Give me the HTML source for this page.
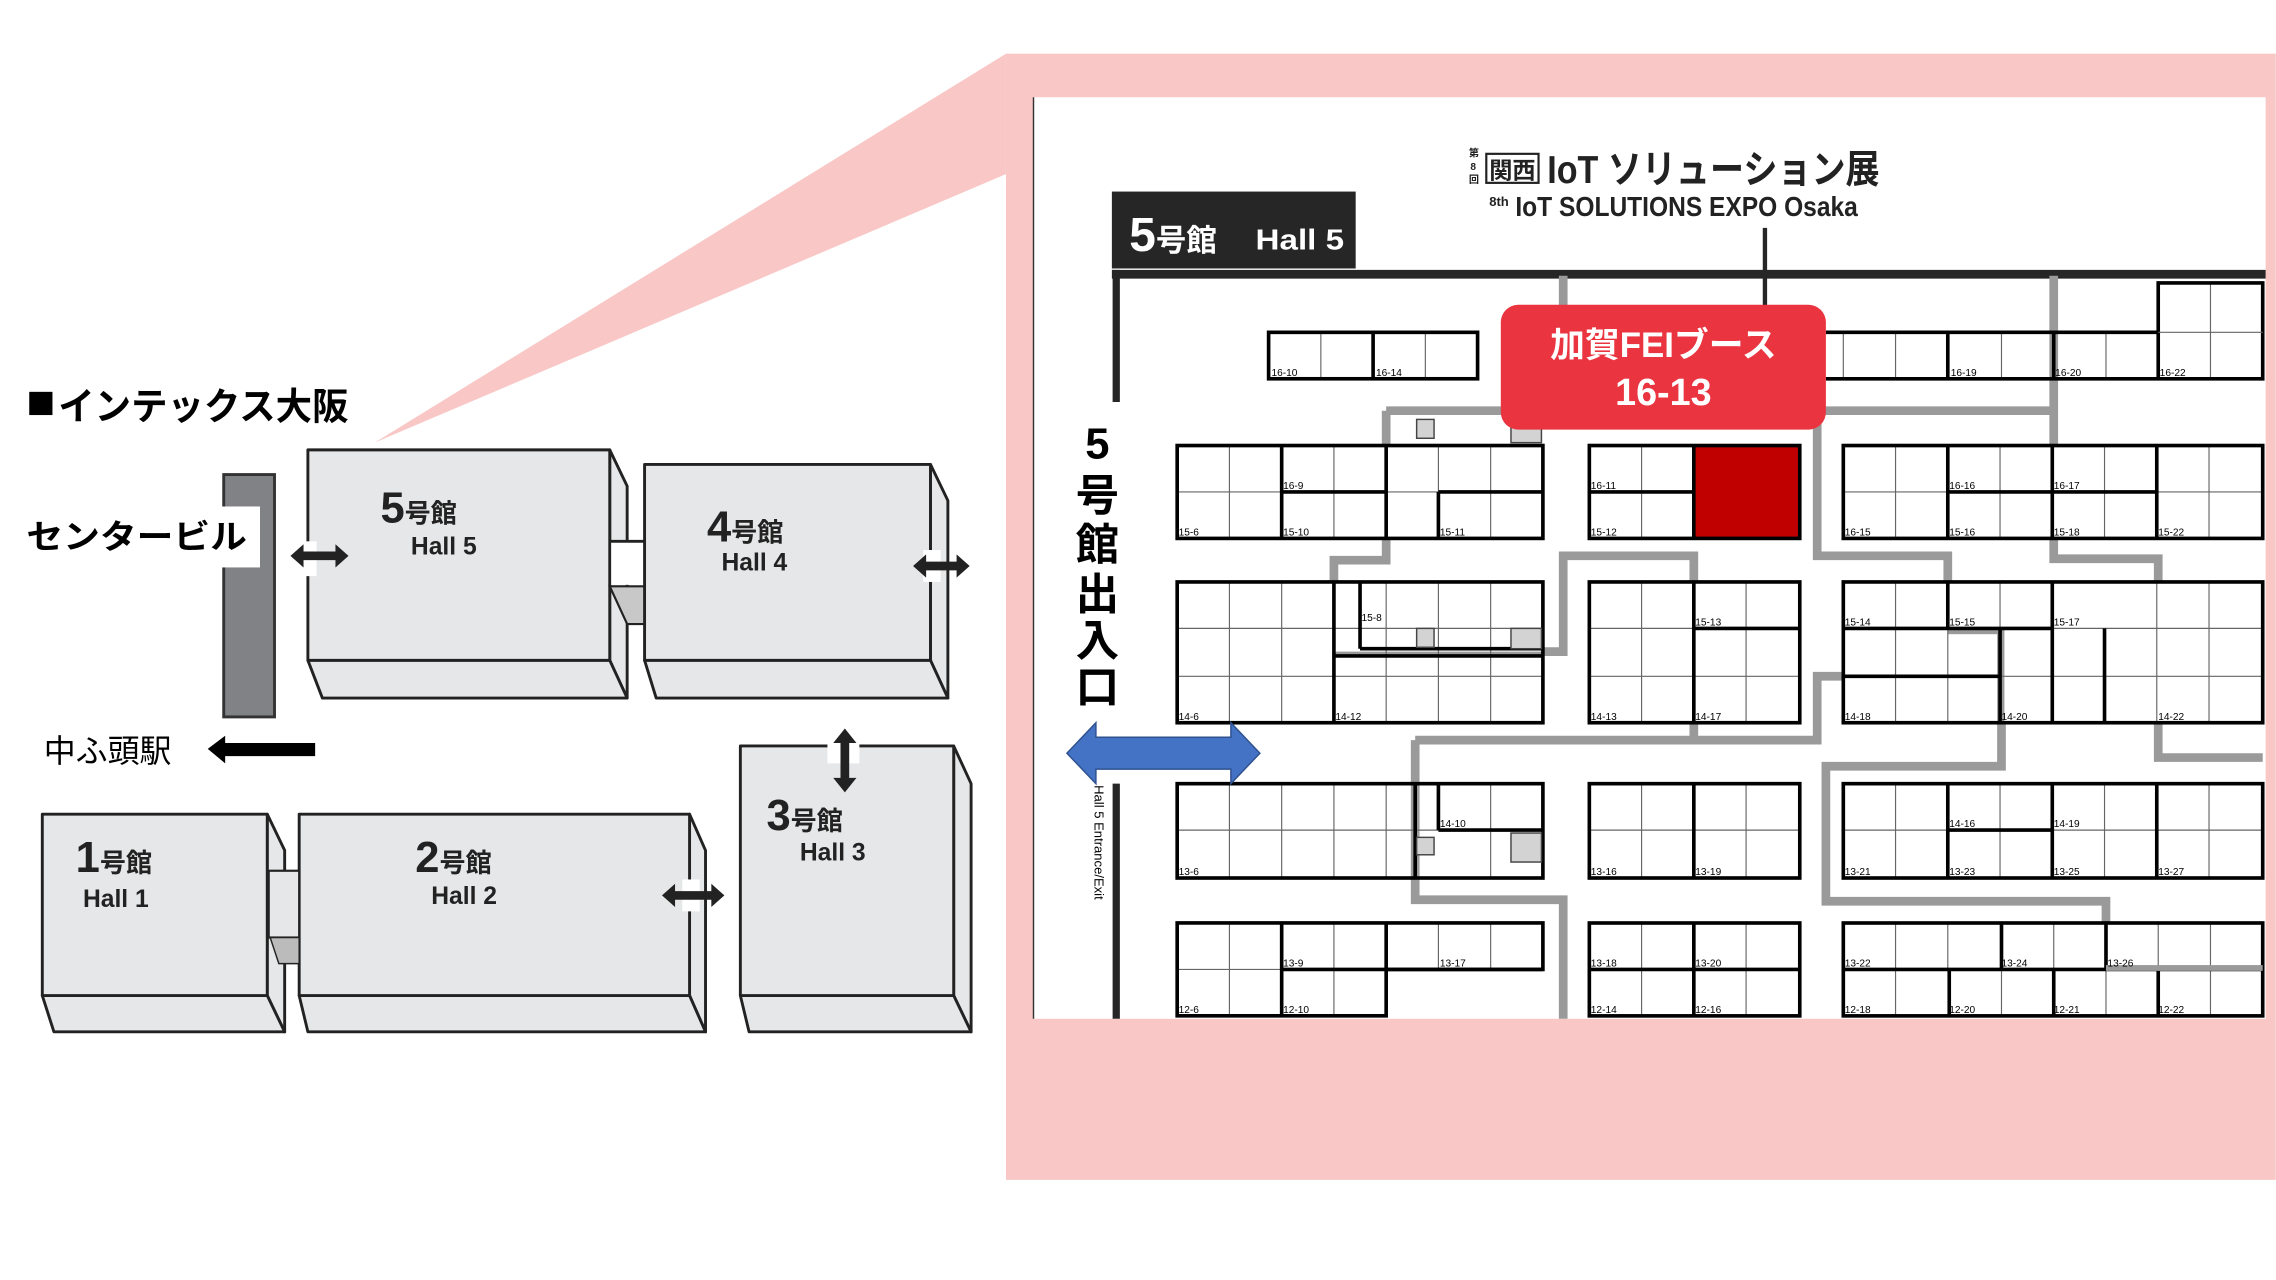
<!DOCTYPE html>
<html><head><meta charset="utf-8"><style>
html,body{margin:0;padding:0;background:#fff;width:2276px;height:1280px;overflow:hidden}
svg{display:block}
.jp{font-family:"Liberation Sans","Noto Sans CJK JP",sans-serif;font-weight:bold}
.n{font-family:"Liberation Sans Narrow","Liberation Sans",sans-serif;font-size:7px;fill:#000}
.tn{stroke:#666;stroke-width:0.8;fill:none}
.tk{stroke:#000;stroke-width:2.5;fill:none}
.ai{stroke:#9a9a9a;stroke-width:6;fill:none;stroke-linejoin:miter}
.hall{fill:#e6e7e8;stroke:#222;stroke-width:2;stroke-linejoin:round}
</style></head><body>
<svg width="2276" height="1280" viewBox="0 0 1568 882" xmlns="http://www.w3.org/2000/svg">
<rect x="693" y="37" width="875" height="776" fill="#f8c7c6"/>
<polygon points="258,305 693,37 693,120" fill="#f8c7c6"/>
<rect x="712" y="67" width="849" height="635" fill="#fff"/>
<line x1="712" y1="67" x2="712" y2="702" stroke="#333" stroke-width="1"/>

<rect x="20" y="270" width="16" height="16" fill="#000"/>
<text x="40" y="289" class="jp" font-size="26" textLength="200" lengthAdjust="spacingAndGlyphs">インテックス大阪</text>
<rect x="154" y="327" width="35" height="167" fill="#808285" stroke="#333" stroke-width="2"/>
<rect x="14" y="349" width="165" height="42" fill="#fff"/>
<text x="18" y="378" font-family="'Liberation Sans','Noto Sans CJK JP',sans-serif" font-size="23" font-weight="bold" textLength="152" lengthAdjust="spacingAndGlyphs">センタービル</text>
<text x="30" y="525" font-family="'Liberation Sans','Noto Sans CJK JP',sans-serif" font-size="22">中ふ頭駅</text>
<polygon points="143,516 155,507 155,512 217,512 217,521 155,521 155,526" fill="#000"/>

<g>
<polygon class="hall" points="420,310 432,335 432,481 420,455"/>
<polygon class="hall" points="212,455 420,455 432,481 222,481"/>
<rect class="hall" x="212" y="310" width="208" height="145"/>
<polygon points="420,404 444,404 444,430 432,430" fill="#c8c8c8" stroke="#222" stroke-width="1.5"/>
<rect x="421" y="373" width="22" height="30" fill="#fff"/>
<line x1="420" y1="373" x2="444" y2="373" stroke="#222" stroke-width="2"/>

<polygon class="hall" points="641,320 653,345 653,481 641,455"/>
<polygon class="hall" points="444,455 641,455 653,481 452,481"/>
<rect class="hall" x="444" y="320" width="197" height="135"/>

<polygon class="hall" points="657,514 669,540 669,711 657,686"/>
<polygon class="hall" points="510,686 657,686 669,711 516,711"/>
<rect class="hall" x="510" y="514" width="147" height="172"/>

<polygon class="hall" points="475,561 486,586 486,711 475,686"/>
<polygon class="hall" points="206,686 475,686 486,711 212,711"/>
<rect class="hall" x="206" y="561" width="269" height="125"/>

<polygon class="hall" points="184,561 196,586 196,711 184,686"/>
<polygon class="hall" points="29,686 184,686 196,711 37,711"/>
<rect class="hall" x="29" y="561" width="155" height="125"/>
<rect x="185" y="600" width="21" height="46" fill="#e6e7e8" stroke="#222" stroke-width="1.5"/>
<polygon points="186,646 206,646 206,664 192,664" fill="#bbb" stroke="#222" stroke-width="1"/>
</g>
<rect x="206" y="373" width="12" height="24" fill="#fff"/>
<rect x="636" y="379" width="12" height="22" fill="#fff"/>
<rect x="470" y="606" width="12" height="22" fill="#fff"/>
<rect x="570" y="512" width="22" height="14" fill="#fff"/>
<polygon points="200,383 209,375 209,380 231,380 231,375 240,383 231,391 231,386 209,386 209,391" fill="#222"/>
<polygon points="629,390 638,382 638,387 659,387 659,382 668,390 659,398 659,393 638,393 638,398" fill="#222"/>
<polygon points="456,617 465,609 465,614 490,614 490,609 499,617 490,625 490,620 465,620 465,625" fill="#222"/>
<polygon points="582,502 590,512 585,512 585,536 590,536 582,546 574,536 579,536 579,512 574,512" fill="#222"/>
<g class="jp" fill="#222">
<text x="262" y="360" font-size="30">5<tspan font-size="18">号館</tspan></text>
<text x="283" y="382" font-size="17">Hall 5</text>
<text x="487" y="373" font-size="30">4<tspan font-size="18">号館</tspan></text>
<text x="497" y="393" font-size="17">Hall 4</text>
<text x="528" y="572" font-size="30">3<tspan font-size="18">号館</tspan></text>
<text x="551" y="593" font-size="17">Hall 3</text>
<text x="286" y="601" font-size="30">2<tspan font-size="18">号館</tspan></text>
<text x="297" y="623" font-size="17">Hall 2</text>
<text x="52" y="601" font-size="30">1<tspan font-size="18">号館</tspan></text>
<text x="57" y="625" font-size="17">Hall 1</text>
</g>

<g class="jp" fill="#222">
<text x="1012" y="108" font-size="7">第</text>
<text x="1013" y="117" font-size="7">8</text>
<text x="1012" y="126" font-size="7">回</text>
<rect x="1024" y="106" width="36" height="20" fill="none" stroke="#222" stroke-width="1.5"/>
<text x="1026" y="123" font-size="16">関西</text>
<text x="1066" y="126" font-size="27" textLength="229" lengthAdjust="spacingAndGlyphs">IoT ソリューション展</text>
<text x="1026" y="142" font-size="9">8th</text>
<text x="1044" y="149" font-size="19" textLength="236" lengthAdjust="spacingAndGlyphs">IoT SOLUTIONS EXPO Osaka</text>
</g>
<rect x="766" y="132" width="168" height="53" fill="#262626"/>
<text x="778" y="173" class="jp" font-size="33" fill="#fff">5<tspan font-size="21">号館</tspan></text>
<text x="865" y="172" class="jp" font-size="20" fill="#fff" textLength="61" lengthAdjust="spacingAndGlyphs">Hall 5</text>
<line x1="766" y1="189" x2="1561" y2="189" stroke="#262626" stroke-width="6"/>
<line x1="769" y1="186" x2="769" y2="277" stroke="#262626" stroke-width="5"/>
<line x1="769" y1="540" x2="769" y2="702" stroke="#262626" stroke-width="5"/>
<line x1="1216" y1="157" x2="1216" y2="212" stroke="#262626" stroke-width="3"/>

<g fill="#fff">
<rect x="874" y="229" width="144" height="32"/>
<rect x="1258" y="229" width="301" height="32"/><rect x="1487" y="195" width="72" height="34"/>
</g>

<g class="ai">
<polyline points="1077,190 1077,283"/>
<polyline points="955,283 1415,283"/>
<polyline points="955,283 955,307"/>
<polyline points="955,371 955,386 919,386 919,449 1077,449 1077,383 1167,383 1167,510"/>
<polyline points="975,510 1252,510 1252,466 1379,466"/>
<polyline points="975,510 975,620 1077,620 1077,702"/>
<polyline points="1252,283 1252,383 1342,383 1342,433 1379,433 1379,528 1258,528 1258,621 1451,621 1451,668 1559,668"/>
<polyline points="1415,190 1415,385 1487,385 1487,522 1559,522"/>
</g>

<g>
<line class="tn" x1="910" y1="229" x2="910" y2="261"/><line class="tn" x1="982" y1="229" x2="982" y2="261"/>
<line class="tk" x1="946" y1="229" x2="946" y2="261"/>
<rect class="tk" x="874" y="229" width="144" height="32"/>
<line class="tn" x1="1306" y1="229" x2="1306" y2="261"/><line class="tn" x1="1379" y1="229" x2="1379" y2="261"/><line class="tn" x1="1451" y1="229" x2="1451" y2="261"/><line class="tn" x1="1523" y1="195" x2="1523" y2="261"/>
<line class="tn" x1="1270" y1="229" x2="1270" y2="261"/>
<line class="tk" x1="1342" y1="229" x2="1342" y2="261"/><line class="tk" x1="1415" y1="229" x2="1415" y2="261"/>
<polyline class="tk" points="1258,229 1487,229 1487,195 1559,195 1559,261 1258,261"/>
<line class="tk" x1="1487" y1="229" x2="1487" y2="261"/>
<line class="tn" x1="1487" y1="229" x2="1559" y2="229"/>
</g>

<g>
<rect x="811" y="307" width="252" height="64" fill="#fff"/>
<g class="tn"><line x1="847" y1="307" x2="847" y2="371"/><line x1="919" y1="307" x2="919" y2="371"/><line x1="991" y1="307" x2="991" y2="339"/><line x1="1027" y1="307" x2="1027" y2="371"/><line x1="811" y1="339" x2="1063" y2="339"/></g>
<g class="tk"><line x1="883" y1="307" x2="883" y2="371"/><line x1="955" y1="307" x2="955" y2="371"/><line x1="883" y1="339" x2="955" y2="339"/><line x1="991" y1="339" x2="1063" y2="339"/><line x1="991" y1="339" x2="991" y2="371"/><rect x="811" y="307" width="252" height="64"/></g>
<rect x="1095" y="307" width="145" height="64" fill="#fff"/>
<rect x="1167" y="307" width="73" height="64" fill="#c00000"/>
<g class="tn"><line x1="1131" y1="307" x2="1131" y2="371"/><line x1="1095" y1="339" x2="1167" y2="339"/></g>
<g class="tk"><line x1="1167" y1="307" x2="1167" y2="371"/><line x1="1095" y1="339" x2="1167" y2="339"/><rect x="1095" y="307" width="145" height="64"/></g>
<rect x="1270" y="307" width="289" height="64" fill="#fff"/>
<g class="tn"><line x1="1306" y1="307" x2="1306" y2="371"/><line x1="1378" y1="307" x2="1378" y2="371"/><line x1="1450" y1="307" x2="1450" y2="371"/><line x1="1522" y1="307" x2="1522" y2="371"/><line x1="1270" y1="339" x2="1559" y2="339"/></g>
<g class="tk"><line x1="1342" y1="307" x2="1342" y2="371"/><line x1="1414" y1="307" x2="1414" y2="371"/><line x1="1486" y1="307" x2="1486" y2="371"/><line x1="1342" y1="339" x2="1486" y2="339"/><rect x="1270" y="307" width="289" height="64"/></g>
</g>

<g>
<rect x="811" y="401" width="252" height="97" fill="#fff"/>
<rect x="919" y="449" width="144" height="4" fill="#9a9a9a"/>
<g class="tn"><line x1="847" y1="401" x2="847" y2="498"/><line x1="883" y1="401" x2="883" y2="498"/><line x1="955" y1="401" x2="955" y2="498"/><line x1="991" y1="401" x2="991" y2="498"/><line x1="1027" y1="401" x2="1027" y2="498"/><line x1="811" y1="433" x2="1063" y2="433"/><line x1="811" y1="466" x2="1063" y2="466"/></g>
<g class="tk"><line x1="919" y1="401" x2="919" y2="498"/><line x1="937" y1="401" x2="937" y2="447"/><line x1="937" y1="447" x2="1063" y2="447"/><line x1="919" y1="452" x2="1063" y2="452"/><rect x="811" y="401" width="252" height="97"/></g>
<rect x="1095" y="401" width="145" height="97" fill="#fff"/>
<g class="tn"><line x1="1131" y1="401" x2="1131" y2="498"/><line x1="1203" y1="401" x2="1203" y2="498"/><line x1="1095" y1="433" x2="1240" y2="433"/><line x1="1095" y1="466" x2="1240" y2="466"/></g>
<g class="tk"><line x1="1167" y1="401" x2="1167" y2="498"/><line x1="1167" y1="433" x2="1240" y2="433"/><rect x="1095" y="401" width="145" height="97"/></g>
<rect x="1270" y="401" width="289" height="97" fill="#fff"/>
<rect x="1342" y="433" width="37" height="4" fill="#9a9a9a"/>
<rect x="1376" y="433" width="5" height="65" fill="#9a9a9a"/>
<g class="tn"><line x1="1306" y1="401" x2="1306" y2="498"/><line x1="1342" y1="433" x2="1342" y2="498"/><line x1="1486" y1="401" x2="1486" y2="498"/><line x1="1522" y1="401" x2="1522" y2="498"/><line x1="1378" y1="401" x2="1378" y2="433"/><line x1="1270" y1="433" x2="1559" y2="433"/><line x1="1270" y1="466" x2="1559" y2="466"/></g>
<g class="tk"><line x1="1270" y1="433" x2="1414" y2="433"/><line x1="1342" y1="401" x2="1342" y2="433"/><line x1="1414" y1="401" x2="1414" y2="498"/><line x1="1378" y1="433" x2="1378" y2="498"/><line x1="1270" y1="466" x2="1378" y2="466"/><line x1="1450" y1="433" x2="1450" y2="498"/><rect x="1270" y="401" width="289" height="97"/></g>
</g>

<g>
<rect x="811" y="540" width="252" height="65" fill="#fff"/>
<rect x="972" y="540" width="6" height="65" fill="#9a9a9a"/>
<g class="tn"><line x1="847" y1="540" x2="847" y2="605"/><line x1="883" y1="540" x2="883" y2="605"/><line x1="919" y1="540" x2="919" y2="605"/><line x1="955" y1="540" x2="955" y2="605"/><line x1="1027" y1="540" x2="1027" y2="605"/><line x1="811" y1="572" x2="1063" y2="572"/></g>
<g class="tk"><line x1="975" y1="540" x2="975" y2="605"/><line x1="991" y1="540" x2="991" y2="572"/><line x1="991" y1="572" x2="1063" y2="572"/><rect x="811" y="540" width="252" height="65"/></g>
<rect x="1095" y="540" width="145" height="65" fill="#fff"/>
<g class="tn"><line x1="1131" y1="540" x2="1131" y2="605"/><line x1="1203" y1="540" x2="1203" y2="605"/><line x1="1095" y1="572" x2="1240" y2="572"/></g>
<g class="tk"><line x1="1167" y1="540" x2="1167" y2="605"/><rect x="1095" y="540" width="145" height="65"/></g>
<rect x="1270" y="540" width="289" height="65" fill="#fff"/>
<g class="tn"><line x1="1306" y1="540" x2="1306" y2="605"/><line x1="1378" y1="540" x2="1378" y2="605"/><line x1="1450" y1="540" x2="1450" y2="605"/><line x1="1522" y1="540" x2="1522" y2="605"/><line x1="1270" y1="572" x2="1559" y2="572"/></g>
<g class="tk"><line x1="1342" y1="540" x2="1342" y2="605"/><line x1="1414" y1="540" x2="1414" y2="605"/><line x1="1486" y1="540" x2="1486" y2="605"/><line x1="1342" y1="572" x2="1414" y2="572"/><rect x="1270" y="540" width="289" height="65"/></g>
</g>

<g>
<polygon points="811,636 1063,636 1063,668 955,668 955,700 811,700" fill="#fff"/>
<g class="tn"><line x1="847" y1="636" x2="847" y2="700"/><line x1="919" y1="636" x2="919" y2="700"/><line x1="991" y1="636" x2="991" y2="668"/><line x1="1027" y1="636" x2="1027" y2="668"/><line x1="811" y1="668" x2="883" y2="668"/></g>
<g class="tk"><line x1="883" y1="636" x2="883" y2="700"/><line x1="955" y1="636" x2="955" y2="668"/><line x1="883" y1="668" x2="1063" y2="668"/><polygon points="811,636 1063,636 1063,668 955,668 955,700 811,700"/></g>
<rect x="1095" y="636" width="145" height="64" fill="#fff"/>
<g class="tn"><line x1="1131" y1="636" x2="1131" y2="700"/><line x1="1203" y1="636" x2="1203" y2="700"/></g>
<g class="tk"><line x1="1167" y1="636" x2="1167" y2="700"/><line x1="1095" y1="668" x2="1240" y2="668"/><rect x="1095" y="636" width="145" height="64"/></g>
<rect x="1270" y="636" width="289" height="64" fill="#fff"/>
<g class="tn"><line x1="1306" y1="636" x2="1306" y2="700"/><line x1="1342" y1="636" x2="1342" y2="668"/><line x1="1415" y1="636" x2="1415" y2="668"/><line x1="1487" y1="636" x2="1487" y2="668"/><line x1="1523" y1="636" x2="1523" y2="700"/><line x1="1379" y1="668" x2="1379" y2="700"/><line x1="1451" y1="668" x2="1451" y2="700"/></g>
<g class="tk"><line x1="1379" y1="636" x2="1379" y2="668"/><line x1="1451" y1="636" x2="1451" y2="668"/><line x1="1343" y1="668" x2="1343" y2="700"/><line x1="1415" y1="668" x2="1415" y2="700"/><line x1="1487" y1="668" x2="1487" y2="700"/><line x1="1270" y1="668" x2="1559" y2="668"/><rect x="1270" y="636" width="289" height="64"/></g>
<rect x="1451" y="665" width="108" height="4" fill="#9a9a9a"/>
</g>

<g fill="#d3d3d3" stroke="#444" stroke-width="1">
<rect x="976" y="289" width="12" height="13"/><rect x="1041" y="290" width="21" height="15"/>
<rect x="976" y="433" width="12" height="13"/><rect x="1041" y="433" width="21" height="14"/>
<rect x="976" y="577" width="12" height="12"/><rect x="1041" y="574" width="21" height="20"/>
</g>

<g class="n">
<text x="876" y="259">16-10</text><text x="948" y="259">16-14</text>
<text x="1344" y="259">16-19</text><text x="1416" y="259">16-20</text><text x="1488" y="259">16-22</text>
<text x="884" y="337">16-9</text><text x="812" y="369">15-6</text><text x="884" y="369">15-10</text><text x="992" y="369">15-11</text>
<text x="1096" y="337">16-11</text><text x="1096" y="369">15-12</text>
<text x="1271" y="369">16-15</text><text x="1343" y="337">16-16</text><text x="1343" y="369">15-16</text><text x="1415" y="337">16-17</text><text x="1415" y="369">15-18</text><text x="1487" y="369">15-22</text>
<text x="938" y="428">15-8</text><text x="812" y="496">14-6</text><text x="920" y="496">14-12</text>
<text x="1168" y="431">15-13</text><text x="1096" y="496">14-13</text><text x="1168" y="496">14-17</text>
<text x="1271" y="431">15-14</text><text x="1343" y="431">15-15</text><text x="1415" y="431">15-17</text><text x="1271" y="496">14-18</text><text x="1379" y="496">14-20</text><text x="1487" y="496">14-22</text>
<text x="992" y="570">14-10</text><text x="812" y="603">13-6</text>
<text x="1096" y="603">13-16</text><text x="1168" y="603">13-19</text>
<text x="1343" y="570">14-16</text><text x="1415" y="570">14-19</text><text x="1271" y="603">13-21</text><text x="1343" y="603">13-23</text><text x="1415" y="603">13-25</text><text x="1487" y="603">13-27</text>
<text x="884" y="666">13-9</text><text x="992" y="666">13-17</text><text x="812" y="698">12-6</text><text x="884" y="698">12-10</text>
<text x="1096" y="666">13-18</text><text x="1168" y="666">13-20</text><text x="1096" y="698">12-14</text><text x="1168" y="698">12-16</text>
<text x="1271" y="666">13-22</text><text x="1379" y="666">13-24</text><text x="1452" y="666">13-26</text><text x="1271" y="698">12-18</text><text x="1343" y="698">12-20</text><text x="1415" y="698">12-21</text><text x="1487" y="698">12-22</text>
</g>

<rect x="1034" y="210" width="224" height="86" rx="12" fill="#ea3440"/>
<text x="1146" y="246" class="jp" font-size="24" fill="#fff" text-anchor="middle">加賀FEIブース</text>
<text x="1146" y="279" class="jp" font-size="26" fill="#fff" text-anchor="middle">16-13</text>

<g class="jp" font-size="30" fill="#000" text-anchor="middle">
<text x="756" y="316">5</text>
<text x="756" y="352">号</text>
<text x="756" y="386">館</text>
<text x="756" y="420">出</text>
<text x="756" y="452">入</text>
<text x="756" y="484">口</text>
</g>
<text transform="translate(754,541) rotate(90)" font-family="'Liberation Sans',sans-serif" font-size="9" fill="#000">Hall 5 Entrance/Exit</text>
<polygon points="735,519 755,498 755,508 848,508 848,498 868,519 848,540 848,530 755,530 755,540" fill="#4472c4" stroke="#2f528f" stroke-width="1"/>
</svg>
</body></html>
